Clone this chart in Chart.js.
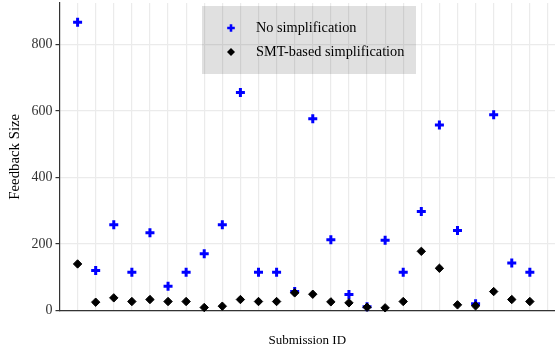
<!DOCTYPE html>
<html>
<head>
<meta charset="utf-8">
<script src="https://cdn.jsdelivr.net/npm/chart.js@4/dist/chart.umd.min.js"></script>
<style>
  html, body { margin: 0; padding: 0; background: #ffffff; }
  #wrap { width: 555px; height: 351px; position: relative; }
</style>
</head>
<body>
<div id="wrap"><canvas id="c" width="555" height="351"></canvas></div>
<script>
// Data
const submissionIds = [1,2,3,4,5,6,7,8,9,10,11,12,13,14,15,16,17,18,19,20,21,22,23,24,25,26];
const noSimplification = [867,120,258,115,234,73,115,171,258,656,115,115,57,577,213,48,11,211,115,298,558,241,20,589,143,115];
const smtSimplification = [140,25,38,27,33,27,27,9,13,33,27,27,53,49,26,23,10,8,27,178,127,17,14,57,33,27];
const yTicks = [0,200,400,600,800];
const seriesLabels = ['No simplification', 'SMT-based simplification'];

const FONT = "'Liberation Serif', 'DejaVu Serif', serif";

const toPoints = (vals) => vals.map((v, i) => ({ x: submissionIds[i], y: v }));

const legendPlugin = {
  id: 'boxLegend',
  afterDraw(chart) {
    const ctx = chart.ctx;
    ctx.save();
    ctx.fillStyle = 'rgba(0,0,0,0.12)';
    ctx.fillRect(202, 6, 214, 68);
    const rows = [
      { y: 28, label: seriesLabels[0], style: 'cross' },
      { y: 52, label: seriesLabels[1], style: 'diamond' }
    ];
    rows.forEach(r => {
      const x = 231;
      if (r.style === 'cross') {
        ctx.strokeStyle = '#0000ff';
        ctx.lineWidth = 2.6;
        ctx.beginPath();
        ctx.moveTo(x - 3.8, r.y); ctx.lineTo(x + 3.8, r.y);
        ctx.moveTo(x, r.y - 3.8); ctx.lineTo(x, r.y + 3.8);
        ctx.stroke();
      } else {
        ctx.fillStyle = '#000000';
        ctx.beginPath();
        ctx.moveTo(x - 4, r.y); ctx.lineTo(x, r.y - 4);
        ctx.lineTo(x + 4, r.y); ctx.lineTo(x, r.y + 4);
        ctx.closePath();
        ctx.fill();
      }
      ctx.fillStyle = '#000000';
      ctx.font = "14.3px " + FONT;
      ctx.textBaseline = 'middle';
      ctx.textAlign = 'left';
      ctx.fillText(r.label, 256, r.y);
    });
    ctx.restore();
  }
};

new Chart(document.getElementById('c'), {
  type: 'scatter',
  data: {
    datasets: [
      {
        label: seriesLabels[1],
        data: toPoints(smtSimplification),
        pointStyle: 'rectRot',
        pointRadius: 4.2,
        pointHoverRadius: 4.2,
        backgroundColor: '#000000',
        borderColor: '#000000',
        borderWidth: 1,
        order: 0,
        clip: false
      },
      {
        label: seriesLabels[0],
        data: toPoints(noSimplification),
        pointStyle: 'cross',
        pointRadius: 4.5,
        pointHoverRadius: 4.5,
        backgroundColor: '#0000ff',
        borderColor: '#0000ff',
        borderWidth: 3,
        order: 1,
        clip: false
      }
    ]
  },
  options: {
    responsive: false,
    animation: false,
    devicePixelRatio: 1,
    layout: { autoPadding: false, padding: { top: 3, right: 0, bottom: 0, left: 0 } },
    plugins: {
      legend: { display: false },
      tooltip: { enabled: false }
    },
    scales: {
      x: {
        type: 'linear',
        min: 0,
        max: 27.39,
        afterBuildTicks(scale) {
          const t = [];
          for (let i = 1; i <= 27; i++) t.push({ value: i });
          scale.ticks = t;
        },
        afterFit(scale) {
          scale.height = 40.5;
          scale.paddingLeft = 0; scale.paddingRight = 0;
        },
        ticks: { display: false },
        grid: { color: '#ebebeb', lineWidth: 1.2, drawTicks: false },
        border: { display: true, color: '#333333', width: 1.2 },
        title: {
          display: true,
          text: 'Submission ID',
          color: '#000000',
          font: { family: FONT, size: 13 },
          padding: { top: 0, bottom: 3 }
        }
      },
      y: {
        type: 'linear',
        min: 0,
        max: 925,
        afterBuildTicks(scale) {
          scale.ticks = yTicks.map(v => ({ value: v }));
        },
        afterFit(scale) {
          scale.width = 59.5;
          scale.paddingTop = 0; scale.paddingBottom = 0;
        },
        ticks: {
          color: '#333333',
          font: { family: FONT, size: 14 },
          padding: 3
        },
        grid: { color: '#ebebeb', lineWidth: 1.2, tickColor: '#333333', tickLength: 4, drawTicks: true },
        border: { display: true, color: '#333333', width: 1.2 },
        title: {
          display: true,
          text: 'Feedback Size',
          color: '#000000',
          font: { family: FONT, size: 14.8 },
          padding: { top: 6.5, bottom: 0 }
        }
      }
    }
  },
  plugins: [legendPlugin]
});
</script>
</body>
</html>
